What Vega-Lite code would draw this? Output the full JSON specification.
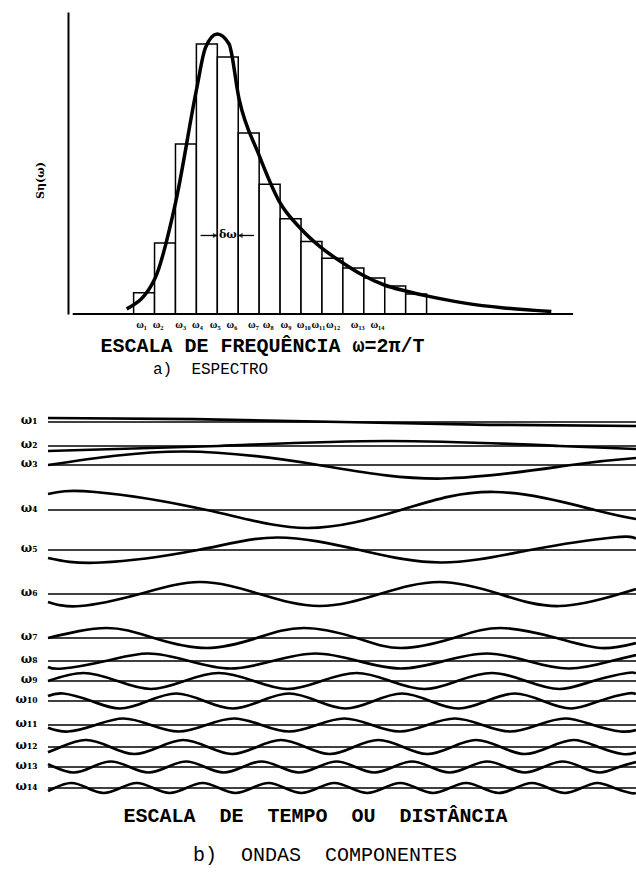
{
  "$schema": "https://vega.github.io/schema/vega-lite/v6.json",
  "background": "white",
  "padding": {"left": 0, "top": 12, "right": 0, "bottom": 10},
  "spacing": 26,
  "datasets": {
    "bars": [
      {"w0": 0, "w1": 1, "s": 7.0},
      {"w0": 1, "w1": 2, "s": 23.5},
      {"w0": 2, "w1": 3, "s": 56.3},
      {"w0": 3, "w1": 4, "s": 89.4},
      {"w0": 4, "w1": 5, "s": 85.1},
      {"w0": 5, "w1": 6, "s": 59.9},
      {"w0": 6, "w1": 7, "s": 43.0},
      {"w0": 7, "w1": 8, "s": 31.5},
      {"w0": 8, "w1": 9, "s": 24.0},
      {"w0": 9, "w1": 10, "s": 18.5},
      {"w0": 10, "w1": 11, "s": 15.2},
      {"w0": 11, "w1": 12, "s": 11.9},
      {"w0": 12, "w1": 13, "s": 9.3},
      {"w0": 13, "w1": 14, "s": 6.6}
    ],
    "curve": [
      {"f": -0.33, "s": 1.7}, {"f": 1.03, "s": 11.9}, {"f": 2.02, "s": 37.4},
      {"f": 3.01, "s": 74.5}, {"f": 3.43, "s": 88.1}, {"f": 3.99, "s": 92.7},
      {"f": 4.56, "s": 89.4}, {"f": 5.03, "s": 71.5}, {"f": 5.97, "s": 53.0},
      {"f": 6.95, "s": 37.4}, {"f": 7.98, "s": 28.3}, {"f": 8.92, "s": 22.2},
      {"f": 10.0, "s": 16.9}, {"f": 10.94, "s": 12.9}, {"f": 11.98, "s": 9.6},
      {"f": 13.0, "s": 7.6}, {"f": 14.0, "s": 6.0}, {"f": 15.83, "s": 3.6},
      {"f": 17.7, "s": 2.0}, {"f": 19.96, "s": 0.8}
    ],
    "freqLabels": [
      {"lab": "ω₁", "pos": 0.38}, {"lab": "ω₂", "pos": 1.17}, {"lab": "ω₃", "pos": 2.25},
      {"lab": "ω₄", "pos": 3.05}, {"lab": "ω₅", "pos": 3.9}, {"lab": "ω₆", "pos": 4.7},
      {"lab": "ω₇", "pos": 5.73}, {"lab": "ω₈", "pos": 6.43}, {"lab": "ω₉", "pos": 7.28},
      {"lab": "ω₁₀", "pos": 8.13}, {"lab": "ω₁₁", "pos": 8.83}, {"lab": "ω₁₂", "pos": 9.53},
      {"lab": "ω₁₃", "pos": 10.71}, {"lab": "ω₁₄", "pos": 11.65}
    ],
    "refs": [
      {"w": "ω₁", "lvl": 19}, {"w": "ω₂", "lvl": 43}, {"w": "ω₃", "lvl": 62},
      {"w": "ω₄", "lvl": 107}, {"w": "ω₅", "lvl": 147}, {"w": "ω₆", "lvl": 191},
      {"w": "ω₇", "lvl": 235}, {"w": "ω₈", "lvl": 258}, {"w": "ω₉", "lvl": 278},
      {"w": "ω₁₀", "lvl": 298}, {"w": "ω₁₁", "lvl": 322}, {"w": "ω₁₂", "lvl": 344},
      {"w": "ω₁₃", "lvl": 364}, {"w": "ω₁₄", "lvl": 385}
    ],
    "waves": [
      {"w": "ω₁", "t": [0, 25, 50, 75, 100], "y": [15, 16.2, 19, 21.8, 23]},
      {"w": "ω₂", "t": [0, 29, 58, 87, 100], "y": [48, 43, 38, 43, 46]},
      {"w": "ω₃", "t": [0, 23, 46, 67, 89, 100], "y": [62, 48.5, 62, 75.5, 62, 55]},
      {"w": "ω₄", "t": [0, 8, 27, 44, 60, 76, 93, 100], "y": [91, 89, 107, 125, 107, 89, 107, 116]},
      {"w": "ω₅", "t": [0, 9, 25.5, 39, 53, 67, 82, 96, 100], "y": [155, 159.5, 147, 134.5, 147, 159.5, 147, 134.5, 135.5]},
      {"w": "ω₆", "t": [0, 5.5, 15.6, 25.8, 36, 46.2, 56.4, 66.6, 76.8, 87, 97.2, 100], "y": [199, 203, 191, 179, 191, 203, 191, 179, 191, 203, 191, 186]},
      {"w": "ω₇", "t": [0, 10, 18, 27, 35.5, 43.5, 52.5, 60, 69, 77, 86.5, 94, 100], "y": [235, 225, 235, 245, 235, 225, 235, 245, 235, 225, 235, 245, 240]},
      {"w": "ω₈", "t": [0, 2.5, 9.8, 17, 24, 31, 38.2, 45.5, 52.8, 60, 67.3, 74.6, 81.6, 88.7, 95.8, 100], "y": [264, 265.5, 258, 250.5, 258, 265.5, 258, 250.5, 258, 265.5, 258, 250.5, 258, 265.5, 258, 252]},
      {"w": "ω₉", "t": [0, 6, 11.8, 17.5, 23.2, 29, 35, 40.7, 46.5, 52.5, 58.2, 64, 69.6, 75.5, 81.3, 87, 92.7, 98.5, 100], "y": [278, 270, 278, 286, 278, 270, 278, 286, 278, 270, 278, 286, 278, 270, 278, 286, 278, 270, 270.6]},
      {"w": "ω₁₀", "t": [0, 2.6, 7.4, 12.2, 17, 21.8, 26.6, 31.4, 36.2, 41, 45.8, 50.6, 55.4, 60.2, 65, 69.8, 74.6, 79.4, 84.2, 89, 93.8, 98.6, 100], "y": [293, 290.5, 298, 305.5, 298, 290.5, 298, 305.5, 298, 290.5, 298, 305.5, 298, 290.5, 298, 305.5, 298, 290.5, 298, 305.5, 298, 290.5, 291.3]},
      {"w": "ω₁₁", "t": [0, 3.4, 8.1, 12.8, 17.5, 22.2, 26.9, 31.6, 36.3, 41, 45.7, 50.4, 55.1, 59.8, 64.5, 69.2, 73.9, 78.6, 83.3, 88, 92.7, 97.4, 100], "y": [324.7, 328.5, 322, 315.5, 322, 328.5, 322, 315.5, 322, 328.5, 322, 315.5, 322, 328.5, 322, 315.5, 322, 328.5, 322, 315.5, 322, 328.5, 327]},
      {"w": "ω₁₂", "t": [0, 2.2, 6.4, 10.6, 14.7, 18.9, 23, 27.2, 31.3, 35.5, 39.6, 43.8, 47.9, 52, 56.2, 60.4, 64.5, 68.7, 72.8, 77, 81.1, 85.3, 89.4, 93.6, 97.7, 100], "y": [349.3, 344, 337, 344, 351, 344, 337, 344, 351, 344, 337, 344, 351, 344, 337, 344, 351, 344, 337, 344, 351, 344, 337, 344, 351, 349.5]},
      {"w": "ω₁₃", "t": [0, 1.1, 4.3, 7.5, 10.7, 13.9, 17.1, 20.3, 23.5, 26.7, 29.9, 33.1, 36.3, 39.5, 42.7, 45.9, 49.1, 52.3, 55.5, 58.7, 61.9, 65.1, 68.3, 71.5, 74.7, 77.9, 81.1, 84.3, 87.5, 90.7, 93.9, 97.1, 100], "y": [361.1, 364, 369.5, 364, 358.5, 364, 369.5, 364, 358.5, 364, 369.5, 364, 358.5, 364, 369.5, 364, 358.5, 364, 369.5, 364, 358.5, 364, 369.5, 364, 358.5, 364, 369.5, 364, 358.5, 364, 369.5, 364, 359]},
      {"w": "ω₁₄", "t": [0, 1.1, 3.9, 6.7, 9.5, 12.3, 15.1, 17.9, 20.7, 23.5, 26.3, 29.1, 31.9, 34.7, 37.5, 40.3, 43.1, 45.9, 48.7, 51.5, 54.3, 57.1, 59.9, 62.7, 65.5, 68.3, 71.1, 73.9, 76.7, 79.5, 82.3, 85.1, 87.9, 90.7, 93.5, 96.3, 99.1, 100], "y": [387.9, 385, 380, 385, 390, 385, 380, 385, 390, 385, 380, 385, 390, 385, 380, 385, 390, 385, 380, 385, 390, 385, 380, 385, 390, 385, 380, 385, 390, 385, 380, 385, 390, 385, 380, 385, 390, 389.9]}
    ]
  },
  "vconcat": [
    {
      "width": 588,
      "height": 302,
      "title": {
        "text": "a) \u00a0ESPECTRO",
        "orient": "bottom",
        "anchor": "start",
        "dx": 119,
        "offset": 6,
        "font": "Liberation Mono",
        "fontSize": 16,
        "fontWeight": "normal",
        "color": "black"
      },
      "layer": [
        {
          "data": {"name": "bars"},
          "mark": {"type": "bar", "orient": "vertical", "fill": "white", "stroke": "black", "strokeWidth": 1.5},
          "encoding": {
            "x": {
              "field": "w0",
              "type": "quantitative",
              "scale": {"domain": [-3.852, 23.767], "nice": false, "zero": false},
              "axis": {
                "domain": false,
                "labels": false,
                "grid": false,
                "values": [0.5, 1.5, 2.5, 3.5, 4.5, 5.5, 6.5, 7.5, 8.5, 9.5, 10.5, 11.5, 12.5, 13.5],
                "tickCount": 30,
                "ticks": true,
                "tickSize": -5,
                "tickWidth": 1.3,
                "tickColor": "black",
                "title": "ESCALA DE FREQUÊNCIA ω=2π/T",
                "titleFont": "Liberation Mono",
                "titleFontSize": 20,
                "titleFontWeight": "bold",
                "titleColor": "black",
                "titleX": 52,
                "titleY": 21,
                "titleAlign": "left",
                "titleBaseline": "top"
              }
            },
            "x2": {"field": "w1"},
            "y": {
              "field": "s",
              "type": "quantitative",
              "scale": {"domain": [0, 100], "nice": false, "zero": true},
              "axis": {
                "offset": -20,
                "domain": true,
                "domainColor": "black",
                "domainWidth": 2,
                "ticks": false,
                "labels": false,
                "grid": false,
                "title": "Sη(ω)",
                "titleFont": "DejaVu Serif",
                "titleFontSize": 11,
                "titleFontWeight": "bold",
                "titleColor": "black",
                "titleX": -28,
                "titleY": 168,
                "titleAlign": "center",
                "titleBaseline": "middle"
              }
            }
          }
        },
        {
          "data": {"values": [{"a": -2.91, "b": 21.0, "s": 0}]},
          "mark": {"type": "rule", "stroke": "black", "strokeWidth": 2},
          "encoding": {
            "x": {"field": "a", "type": "quantitative"},
            "x2": {"field": "b"},
            "y": {"field": "s", "type": "quantitative"}
          }
        },
        {
          "data": {"name": "curve"},
          "mark": {"type": "line", "interpolate": "monotone", "stroke": "black", "strokeWidth": 3.5},
          "encoding": {
            "x": {"field": "f", "type": "quantitative"},
            "y": {"field": "s", "type": "quantitative"}
          }
        },
        {
          "data": {"values": [{"a": 3.2, "b": 4.0, "s": 26}, {"a": 5.0, "b": 5.75, "s": 26}]},
          "mark": {"type": "rule", "stroke": "black", "strokeWidth": 1.3},
          "encoding": {
            "x": {"field": "a", "type": "quantitative"},
            "x2": {"field": "b"},
            "y": {"field": "s", "type": "quantitative"}
          }
        },
        {
          "data": {"values": [{"e": 3.9, "s": 26}]},
          "mark": {"type": "point", "shape": "triangle-right", "filled": true, "color": "black", "size": 30},
          "encoding": {
            "x": {"field": "e", "type": "quantitative"},
            "y": {"field": "s", "type": "quantitative"}
          }
        },
        {
          "data": {"values": [{"e": 5.1, "s": 26}]},
          "mark": {"type": "point", "shape": "triangle-left", "filled": true, "color": "black", "size": 30},
          "encoding": {
            "x": {"field": "e", "type": "quantitative"},
            "y": {"field": "s", "type": "quantitative"}
          }
        },
        {
          "data": {"values": [{"txt": "δω", "c": 4.5, "s": 26}]},
          "mark": {"type": "text", "font": "DejaVu Serif", "fontSize": 11, "fontWeight": "bold", "color": "black", "baseline": "middle", "align": "center"},
          "encoding": {
            "x": {"field": "c", "type": "quantitative"},
            "y": {"field": "s", "type": "quantitative"},
            "text": {"field": "txt", "type": "nominal"}
          }
        },
        {
          "data": {"name": "freqLabels"},
          "mark": {"type": "text", "font": "Liberation Serif", "fontSize": 10.5, "fontWeight": "bold", "color": "black", "baseline": "middle", "align": "center", "y": "height", "dy": 11},
          "encoding": {
            "x": {"field": "pos", "type": "quantitative"},
            "text": {"field": "lab", "type": "nominal"}
          }
        }
      ]
    },
    {
      "width": 588,
      "height": 400,
      "title": {
        "text": "b) \u00a0ONDAS \u00a0COMPONENTES",
        "orient": "bottom",
        "anchor": "middle",
        "dx": -17,
        "offset": 20,
        "font": "Liberation Mono",
        "fontSize": 20,
        "fontWeight": "normal",
        "color": "black"
      },
      "layer": [
        {
          "data": {"name": "waves"},
          "transform": [{"flatten": ["t", "y"]}],
          "mark": {"type": "line", "interpolate": "natural", "stroke": "black", "strokeWidth": 2.7},
          "encoding": {
            "x": {
              "field": "t",
              "type": "quantitative",
              "scale": {"domain": [0, 100], "nice": false, "zero": false},
              "axis": {
                "domain": false,
                "ticks": false,
                "labels": false,
                "grid": false,
                "title": "ESCALA \u00a0DE \u00a0TEMPO \u00a0OU \u00a0DISTÂNCIA",
                "titleFont": "Liberation Mono",
                "titleFontSize": 20,
                "titleFontWeight": "bold",
                "titleColor": "black",
                "titleX": 267,
                "titlePadding": 2
              }
            },
            "y": {
              "field": "y",
              "type": "quantitative",
              "scale": {"domain": [0, 400], "reverse": true, "nice": false, "zero": false},
              "axis": {
                "domain": false,
                "ticks": false,
                "grid": false,
                "title": null,
                "values": [19, 43, 62, 107, 147, 191, 235, 258, 278, 298, 322, 344, 364, 385],
                "tickCount": 30,
                "labelExpr": "['ω₁','ω₂','ω₃','ω₄','ω₅','ω₆','ω₇','ω₈','ω₉','ω₁₀','ω₁₁','ω₁₂','ω₁₃','ω₁₄'][indexof([19,43,62,107,147,191,235,258,278,298,322,344,364,385], datum.value)]",
                "labelOverlap": false,
                "labelFont": "DejaVu Serif",
                "labelFontSize": 12,
                "labelFontWeight": "bold",
                "labelColor": "black",
                "labelPadding": 11,
                "labelOffset": -3,
                "labelBaseline": "middle",
                "minExtent": 48,
                "maxExtent": 48
              }
            },
            "detail": {"field": "w", "type": "nominal"}
          }
        },
        {
          "data": {"name": "refs"},
          "mark": {"type": "rule", "stroke": "black", "strokeWidth": 1.3},
          "encoding": {
            "y": {"field": "lvl", "type": "quantitative"}
          }
        }
      ]
    }
  ],
  "config": {
    "view": {"stroke": null},
    "font": "Liberation Mono",
    "title": {"color": "black"}
  }
}
